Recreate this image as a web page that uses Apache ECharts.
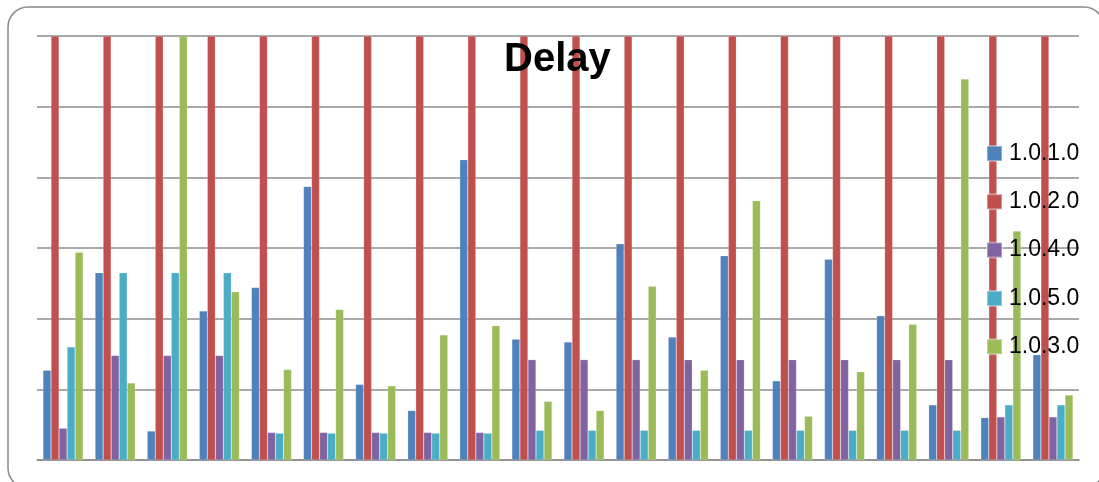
<!DOCTYPE html>
<html>
<head>
<meta charset="utf-8">
<script src="https://cdn.jsdelivr.net/npm/echarts@6/dist/echarts.min.js"></script>
<style>html,body{margin:0;padding:0;background:#fff;}#c{width:1099px;height:482px;}</style>
</head>
<body>
<div id="c"></div>
<script>
const categories = ['1','2','3','4','5','6','7','8','9','10','11','12','13','14','15','16','17','18','19','20'];
const seriesNames = ['1.0.1.0','1.0.2.0','1.0.4.0','1.0.5.0','1.0.3.0'];
const v1010 = [1.27,2.65,0.41,2.11,2.44,3.87,1.07,0.70,4.25,1.71,1.67,3.06,1.74,2.89,1.12,2.84,2.04,0.78,0.60,1.49];
const v1020 = [6,6,6,6,6,6,6,6,6,6,6,6,6,6,6,6,6,6,6,6];
const v1040 = [0.45,1.48,1.48,1.48,0.39,0.39,0.39,0.39,0.39,1.42,1.42,1.42,1.42,1.42,1.42,1.42,1.42,1.42,0.61,0.61];
const v1050 = [1.60,2.65,2.65,2.65,0.38,0.38,0.38,0.38,0.38,0.42,0.42,0.42,0.42,0.42,0.42,0.42,0.42,0.42,0.78,0.78];
const v1030 = [2.94,1.09,6.00,2.38,1.28,2.13,1.05,1.77,1.90,0.83,0.70,2.46,1.27,3.67,0.62,1.25,1.92,5.39,3.24,0.92];
const colors = ['#4F81BD','#C0504D','#8064A2','#4BACC6','#9BBB59'];
const values = [v1010, v1020, v1040, v1050, v1030];

const chart = echarts.init(document.getElementById('c'), null, {renderer:'canvas'});
chart.setOption({
  animation: false,
  color: colors,
  title: {
    text: 'Delay', left: 499, top: 35,
    textStyle: {fontFamily: 'Liberation Sans', fontWeight: 'bold', fontSize: 40, color: '#000'}
  },
  legend: {
    orient: 'vertical', left: 986, top: 142, padding: 0,
    itemWidth: 15, itemHeight: 15, itemGap: 25.3,
    icon: 'rect',
    data: seriesNames,
    textStyle: {fontFamily: 'Liberation Sans', fontSize: 23, color: '#000', padding: [0,0,0,2]}
  },
  grid: {left: 37, right: 20, top: 36, bottom: 22, containLabel: false},
  xAxis: {
    type: 'category', data: categories,
    axisLine: {show: true, lineStyle: {color: '#8c8c8c', width: 1.5}},
    axisTick: {show: false}, axisLabel: {show: false}, splitLine: {show: false}
  },
  yAxis: {
    type: 'value', min: 0, max: 6, interval: 1,
    axisLine: {show: false}, axisTick: {show: false}, axisLabel: {show: false},
    splitLine: {show: true, lineStyle: {color: '#8c8c8c', width: 1.5}}
  },
  graphic: [{
    type: 'rect', shape: {x: 8, y: 7, width: 1096, height: 481, r: 20},
    style: {fill: 'none', stroke: '#8a8a8a', lineWidth: 1.5}, z: 0, silent: true
  }],
  series: seriesNames.map((n, i) => ({
    name: n, type: 'bar', data: values[i],
    barGap: '0%', barCategoryGap: '23%',
    itemStyle: {color: colors[i], borderColor: 'rgba(255,255,255,0.35)', borderWidth: 0.5}
  }))
});
</script>
</body>
</html>
